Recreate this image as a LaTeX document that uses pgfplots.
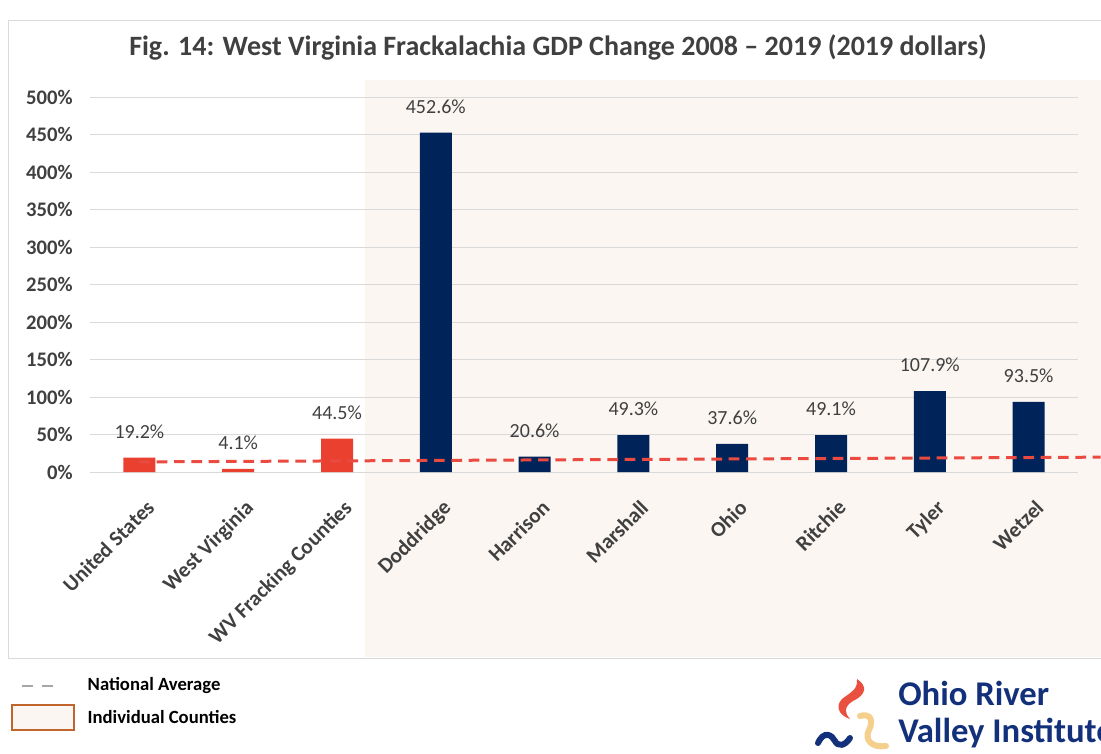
\documentclass[border=0pt]{standalone}
\usepackage{fontspec}
\setmainfont{Carlito}
\usepackage{pgfplots}
\pgfplotsset{compat=1.18}

\definecolor{barred}{HTML}{E9402F}
\definecolor{barnavy}{HTML}{00245A}
\definecolor{bgshade}{HTML}{FBF6F2}
\definecolor{gridgray}{HTML}{D9D9D9}
\definecolor{txtgray}{HTML}{404040}
\definecolor{dashred}{HTML}{EA4A40}
\definecolor{boxbrown}{HTML}{C0652B}
\definecolor{logonavy}{HTML}{13307A}
\definecolor{logored}{HTML}{E9503F}
\definecolor{logoyellow}{HTML}{F4D08C}

\begin{document}
\begin{tikzpicture}
% frame, shading, legend and logo in pixel units (y downwards)
\begin{scope}[x=0.75pt,y=-0.75pt]
  \fill[bgshade] (365,80) rectangle (1101,657);
  \draw[gridgray,line width=0.75pt] (1101,20) -- (8,20) -- (8,658) -- (1101,658);
  \node[font=\bfseries\fontsize{21}{25}\selectfont,text=txtgray] at (558,47)
    {Fig. 14: West Virginia Frackalachia GDP Change 2008 – 2019 (2019 dollars)};
  % legend
  \draw[gray!70,line width=1.5pt,dash pattern=on 8pt off 7pt] (22,686) -- (60,686);
  \node[anchor=west,font=\bfseries\fontsize{14}{17}\selectfont] at (83,686) {National Average};
  \draw[boxbrown,fill=bgshade,line width=1.5pt] (12,705) rectangle (74,730);
  \node[anchor=west,font=\bfseries\fontsize{14}{17}\selectfont] at (83,717) {Individual Counties};
  % logo
  \fill[logored] (857,679) .. controls (868,686) and (866,695) .. (853,701)
    .. controls (843,707) and (845,714) .. (850,719)
    .. controls (837,715) and (834,703) .. (846,696)
    .. controls (855,690) and (858,686) .. (857,679) -- cycle;
  \draw[logonavy,line width=4.5pt,line cap=round] (818,743) .. controls (824,730) and (832,735) .. (835,741)
    .. controls (838,747) and (845,746) .. (850,738);
  \draw[logoyellow,line width=4.5pt,line cap=round] (860,716) .. controls (870,713) and (874,720) .. (869,730)
    .. controls (864,740) and (872,748) .. (886,746);
  \node[anchor=base west,font=\bfseries\fontsize{26}{30}\selectfont,text=logonavy,inner sep=0pt] at (898,705) {Ohio River};
  \node[anchor=base west,font=\bfseries\fontsize{26}{30}\selectfont,text=logonavy,inner sep=0pt] at (898,742) {Valley Institute};
\end{scope}

\begin{axis}[
  at={(67.5pt,-354pt)}, anchor=south west,
  scale only axis, width=741pt, height=281.25pt,
  xmin=-0.5, xmax=9.5, ymin=0, ymax=500,
  axis line style={draw=none}, clip=false,
  ytick={0,50,...,500}, ymajorgrids,
  grid style={gridgray,line width=0.75pt},
  xtick={0,...,9},
  xticklabels={United States,West Virginia,WV Fracking Counties,Doddridge,Harrison,Marshall,Ohio,Ritchie,Tyler,Wetzel},
  xticklabel style={rotate=45,anchor=north east,font=\bfseries\fontsize{16}{19}\selectfont,text=txtgray,xshift=-11pt,yshift=-17pt,inner sep=0pt},
  yticklabel={\pgfmathprintnumber{\tick}\%},
  yticklabel style={font=\bfseries\fontsize{15.5}{18}\selectfont,text=txtgray,xshift=-9.5pt},
  /pgf/number format/assume math mode=true,
  major tick length=0pt,
  ybar, bar width=24pt,
  nodes near coords={\pgfmathprintnumber[fixed,precision=1,fixed zerofill]{\pgfplotspointmeta}\%},
  nodes near coords style={anchor=center,yshift=19.5pt,font=\fontsize{15}{18}\selectfont,text=txtgray,/pgf/number format/assume math mode=true},
]
\addplot[fill=barred,draw=none,bar shift=0pt] coordinates {(0,19.2) (1,4.1) (2,44.5)};
\addplot[fill=barnavy,draw=none,bar shift=0pt] coordinates {(3,452.6) (4,20.6) (5,49.3) (6,37.6) (7,49.1) (8,107.9) (9,93.5)};
\addplot[sharp plot,no marks,nodes near coords={},dashred,line width=2.25pt,dash pattern=on 8pt off 5pt] coordinates {(0,13.5) (9.73,19.8)};
\end{axis}
\pgfresetboundingbox
\path[use as bounding box] (0,0) rectangle (825.75pt,-565.5pt);
\end{tikzpicture}
\end{document}
